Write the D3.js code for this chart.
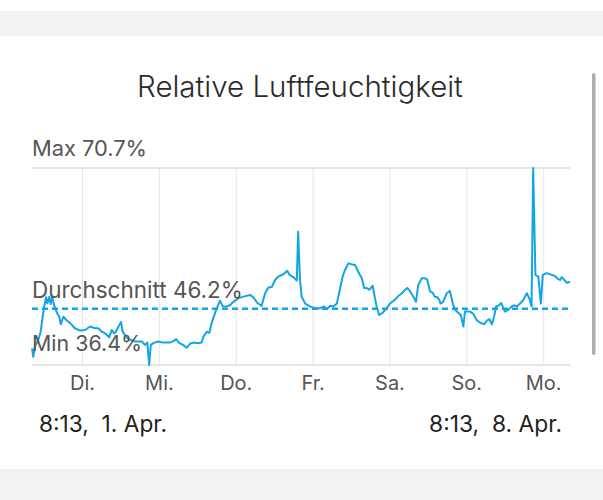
<!DOCTYPE html>
<html>
<head>
<meta charset="utf-8">
<script src="https://cdn.jsdelivr.net/npm/d3@7"></script>
<style>
  html, body { margin: 0; padding: 0; background: #fff; }
  body { width: 603px; height: 500px; overflow: hidden; font-family: Inter, Roboto, "Noto Sans", sans-serif; }
</style>
</head>
<body>
<div id="chart"></div>
<script>
// hours after 8:13, 1. Apr. and relative humidity in %
const hours = [0, 0.4, 0.9, 2.0, 2.7, 3.7, 4.4, 4.8, 5.4, 5.8, 6.3, 7.0, 7.9, 8.5, 9.0, 9.8, 10.8, 11.9, 13.4, 15.0,
  16.6, 18.1, 19.7, 20.7, 21.8, 23.1, 24.1, 24.9, 25.6, 26.2, 27.0, 27.8, 28.3, 29.4, 30.6, 32.2, 34.3, 35.3, 36.0, 36.6,
  37.1, 37.9, 39.4, 41.0, 43.1, 44.3, 45.0, 46.0, 47.2, 48.3, 49.3, 50.4, 51.9, 53.0, 53.5, 54.6, 55.4, 56.1, 57.5, 58.7,
  59.6, 60.8, 61.8, 62.9, 64.4, 66.0, 68.1, 69.1, 70.4, 71.7, 72.8, 73.8, 74.9, 75.9, 76.9, 78.5, 79.7, 80.4, 81.6, 82.7,
  83.1, 83.7, 84.2, 85.3, 86.8, 88.4, 89.9, 91.2, 92.0, 93.1, 94.1, 95.2, 96.0, 97.0, 97.7, 98.8, 100.1, 100.9, 101.9, 103.0,
  103.7, 104.5, 105.3, 106.4, 106.8, 107.6, 108.4, 109.5, 110.8, 111.8, 113.4, 114.4, 115.5, 116.5, 117.2, 118.0, 119.1, 119.9, 120.6, 121.7,
  122.7, 123.4, 124.3, 125.1, 125.8, 126.6, 127.2, 127.6, 128.4, 129.5, 130.5, 131.4, 132.1, 133.1, 133.9, 134.7, 135.2, 136.8, 137.8, 138.9,
  140.1, 141.2, 142.0, 142.8, 143.6, 144.3, 144.9, 145.6, 146.5, 147.2, 147.7, 148.7, 149.8, 150.5, 151.4, 152.4, 153.4, 154.5, 155.3, 156.0,
  156.5, 157.2, 158.1, 158.9, 159.5, 160.7, 162.3, 163.3, 164.0, 164.9, 165.4, 166.1, 167.0, 168.0];
const humidity = [39.3, 37.8, 39.6, 40.8, 42.2, 46.3, 48.2, 47.1, 48.3, 47.0, 48.2, 46.6, 45.4, 44.8, 43.5, 44.8, 44.2, 43.7, 42.8, 42.4,
  42.5, 43.1, 42.8, 42.8, 42.2, 41.8, 41.2, 42.5, 41.9, 42.2, 43.1, 43.9, 42.2, 41.3, 40.8, 40.5, 40.5, 39.9, 40.3, 36.4,
  39.9, 40.2, 40.5, 40.3, 40.3, 40.6, 40.9, 40.2, 39.9, 39.4, 40.1, 40.3, 40.2, 40.3, 41.3, 42.2, 42.0, 43.7, 46.0, 47.6,
  46.6, 46.6, 46.8, 47.4, 48.0, 48.3, 48.6, 48.2, 47.2, 46.7, 48.9, 49.9, 50.0, 51.2, 51.8, 52.2, 52.8, 52.1, 51.7, 51.1,
  59.6, 51.2, 48.3, 47.1, 46.6, 46.3, 46.3, 46.6, 46.1, 46.7, 46.6, 47.1, 49.2, 51.8, 52.9, 54.1, 53.9, 53.8, 52.6, 51.5,
  49.8, 49.8, 49.5, 50.2, 48.9, 46.6, 45.1, 45.5, 46.3, 47.1, 47.8, 48.4, 48.9, 49.5, 49.8, 49.3, 48.3, 47.4, 50.3, 51.5,
  51.5, 51.3, 49.2, 49.0, 48.3, 48.2, 47.7, 47.1, 47.4, 48.9, 49.3, 47.1, 46.0, 45.5, 45.1, 43.1, 45.7, 45.7, 45.3, 44.2,
  43.7, 43.5, 44.1, 44.4, 43.5, 44.8, 46.6, 46.7, 47.2, 46.3, 45.7, 46.0, 46.6, 46.8, 46.6, 47.1, 47.7, 48.9, 48.0, 46.6,
  70.7, 52.1, 51.8, 47.1, 52.1, 52.4, 52.1, 51.9, 51.5, 51.2, 51.7, 51.3, 50.7, 50.9];

const statLabels = ["Max", "Durchschnitt", "Min"];
const statValues = [70.7, 46.2, 36.4];
const dayLabels = ["Di.", "Mi.", "Do.", "Fr.", "Sa.", "So.", "Mo."];
const rangeLabels = ["8:13,  1. Apr.", "8:13,  8. Apr."];
const title = "Relative Luftfeuchtigkeit";

const start = new Date(2024, 3, 1, 8, 13);
const end = new Date(2024, 3, 8, 8, 13);
const data = hours.map((h, i) => ({ date: new Date(start.getTime() + h * 3600000), value: humidity[i] }));

const W = 603, H = 500;
const blue = "#12a4e6";

// scale a text's font size so that it spans the given width
function fitWidth(sel, target) {
    sel.each(function() {
        const len = this.getComputedTextLength();
        const size = parseFloat(d3.select(this).style("font-size"));
        d3.select(this).style("font-size", (size * target / len) + "px");
    });
}

const svg = d3.select("#chart").append("svg")
    .attr("width", W)
    .attr("height", H);

// grey bands of the surrounding page
svg.append("rect").attr("x", 0).attr("y", 11).attr("width", W).attr("height", 25).attr("fill", "#f2f2f2");
svg.append("rect").attr("x", 0).attr("y", 469).attr("width", W).attr("height", H - 469).attr("fill", "#f2f2f2");

// scroll indicator
svg.append("rect").attr("x", 592).attr("y", 73).attr("width", 3.5).attr("height", 282)
    .attr("rx", 1.75).attr("fill", "#b0b0b0");

svg.append("text")
    .attr("x", 300)
    .attr("y", 97)
    .attr("text-anchor", "middle")
    .style("font-size", "26px")
    .style("font-weight", 300)
    .style("fill", "#2b2b2b")
    .text(title)
    .call(fitWidth, 326);

const x = d3.scaleTime().domain([start, end]).range([32, 570]);
const y = d3.scaleLinear().domain([statValues[2], statValues[0]]).range([365, 168]);

// day grid lines
const days = d3.timeDay.range(d3.timeDay.ceil(start), end);
svg.append("g")
    .selectAll("line")
    .data(days)
    .enter()
    .append("line")
    .attr("x1", d => x(d))
    .attr("x2", d => x(d))
    .attr("y1", y(statValues[0]))
    .attr("y2", y(statValues[2]))
    .attr("stroke", "#e6e6e6")
    .attr("stroke-width", 1);

svg.append("line")
    .attr("x1", 32).attr("x2", 570)
    .attr("y1", y(statValues[0])).attr("y2", y(statValues[0]))
    .attr("stroke", "#dcdcdc").attr("stroke-width", 1.5);
svg.append("line")
    .attr("x1", 32).attr("x2", 570)
    .attr("y1", y(statValues[2])).attr("y2", y(statValues[2]))
    .attr("stroke", "#dcdcdc").attr("stroke-width", 1.5);

// day labels
svg.append("g")
    .selectAll("text")
    .data(days)
    .enter()
    .append("text")
    .attr("x", d => x(d))
    .attr("y", 390)
    .attr("text-anchor", "middle")
    .style("font-size", "20px")
    .style("fill", "#555")
    .text((d, i) => dayLabels[i]);

// average line
svg.append("line")
    .attr("x1", 32).attr("x2", 570)
    .attr("y1", y(statValues[1])).attr("y2", y(statValues[1]))
    .attr("stroke", blue)
    .attr("stroke-width", 2.5)
    .attr("stroke-dasharray", "6,4");

const line = d3.line()
    .x(d => x(d.date))
    .y(d => y(d.value));

svg.append("path")
    .datum(data)
    .attr("fill", "none")
    .attr("stroke", blue)
    .attr("stroke-width", 2)
    .attr("stroke-linejoin", "round")
    .attr("d", line);

// stat labels: Max above top line, average and min above their positions
const labelY = [y(statValues[0]) - 12, y(statValues[1]) - 11, y(statValues[2]) - 14];
svg.append("g")
    .selectAll("text")
    .data(statLabels)
    .enter()
    .append("text")
    .attr("x", 32)
    .attr("y", (d, i) => labelY[i])
    .style("font-size", "18px")
    .style("fill", "#555")
    .text((d, i) => `${d} ${statValues[i].toFixed(1)}%`)
    .call(fitWidth, 211)
    .filter((d, i) => i === 0).call(fitWidth, 115);

svg.selectAll("g text").filter(d => d === "Min").call(fitWidth, 110);

svg.append("text")
    .attr("x", 39)
    .attr("y", 432)
    .style("font-size", "19px")
    .style("fill", "#222")
    .style("white-space", "pre")
    .text(rangeLabels[0])
    .call(fitWidth, 128);
svg.append("text")
    .attr("x", 562)
    .attr("y", 432)
    .attr("text-anchor", "end")
    .style("font-size", "19px")
    .style("fill", "#222")
    .style("white-space", "pre")
    .text(rangeLabels[1])
    .call(fitWidth, 133);
</script>
</body>
</html>
